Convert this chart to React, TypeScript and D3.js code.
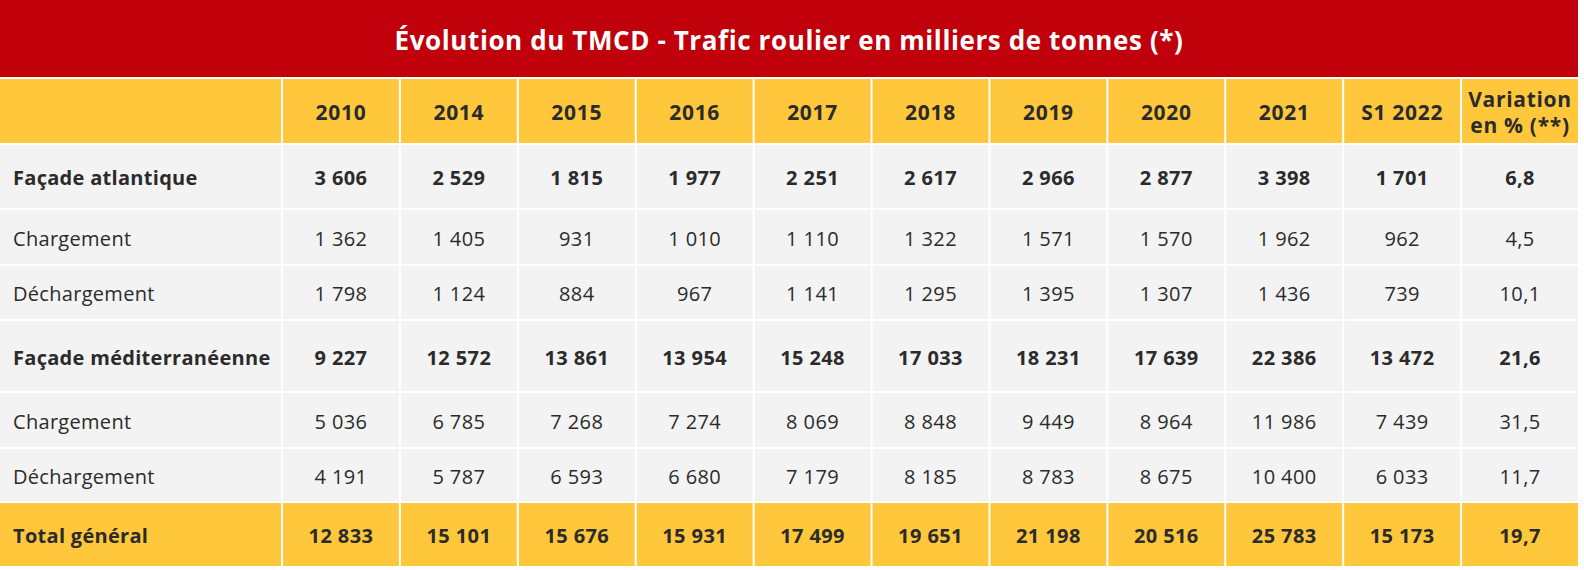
import React from "react";
import * as d3 from "d3";

const title = "Évolution du TMCD - Trafic roulier en milliers de tonnes (*)";
const columns = ["2010", "2014", "2015", "2016", "2017", "2018", "2019", "2020", "2021", "S1 2022", "Variation|en % (**)"];
const rowLabels = ["Façade atlantique", "Chargement", "Déchargement", "Façade méditerranéenne", "Chargement", "Déchargement", "Total général"];
const rowBold = [true, false, false, true, false, false, true];

const atlantique = ["3 606", "2 529", "1 815", "1 977", "2 251", "2 617", "2 966", "2 877", "3 398", "1 701", "6,8"];
const atlChargement = ["1 362", "1 405", "931", "1 010", "1 110", "1 322", "1 571", "1 570", "1 962", "962", "4,5"];
const atlDechargement = ["1 798", "1 124", "884", "967", "1 141", "1 295", "1 395", "1 307", "1 436", "739", "10,1"];
const mediterranee = ["9 227", "12 572", "13 861", "13 954", "15 248", "17 033", "18 231", "17 639", "22 386", "13 472", "21,6"];
const medChargement = ["5 036", "6 785", "7 268", "7 274", "8 069", "8 848", "9 449", "8 964", "11 986", "7 439", "31,5"];
const medDechargement = ["4 191", "5 787", "6 593", "6 680", "7 179", "8 185", "8 783", "8 675", "10 400", "6 033", "11,7"];
const totalGeneral = ["12 833", "15 101", "15 676", "15 931", "17 499", "19 651", "21 198", "20 516", "25 783", "15 173", "19,7"];

const rows = [atlantique, atlChargement, atlDechargement, mediterranee, medChargement, medDechargement, totalGeneral];

const W = 1584;
const H = 570;
const TABLE_W = 1578;
const FIRST_W = 281;
const GAP = 2;
const TITLE_H = 77;
const HEADER_H = 64;
const ROW_H = [63, 54, 53, 70, 54, 52, 63];

const RED = "#C0000B";
const YELLOW = "#FEC73C";
const GREY = "#F3F3F3";
const TEXT = "#2B2B2B";
const FONT = "'Open Sans', 'Noto Sans', sans-serif";

export default function App() {
  const x = d3.scaleBand<string>().domain(columns).range([FIRST_W, TABLE_W]).padding(0);
  const headerY = TITLE_H + GAP;
  const rowY: number[] = [];
  let y = headerY + HEADER_H + GAP;
  for (let i = 0; i < ROW_H.length; i++) {
    rowY.push(y);
    y += ROW_H[i] + GAP;
  }

  return (
    <svg
      width={W}
      height={H}
      style={{ position: "absolute", left: 0, top: 0, background: "#fff" }}
      fontFamily={FONT}
    >
      <rect x={0} y={0} width={TABLE_W} height={TITLE_H} fill={RED} />
      <text
        x={TABLE_W / 2}
        y={50}
        textAnchor="middle"
        fill="#fff"
        fontWeight={700}
        fontSize={26}
        letterSpacing={0.6}
      >
        {title}
      </text>

      {/* header */}
      <rect x={0} y={headerY} width={FIRST_W} height={HEADER_H} fill={YELLOW} />
      {columns.map((c) => {
        const cx = (x(c) as number) + GAP;
        const w = x.bandwidth() - GAP;
        const lines = c.split("|");
        return (
          <g key={c}>
            <rect x={cx} y={headerY} width={w} height={HEADER_H} fill={YELLOW} />
            {lines.map((ln, li) => (
              <text
                key={li}
                x={cx + w / 2}
                y={headerY + HEADER_H / 2 + 1 + (li - (lines.length - 1) / 2) * 26}
                textAnchor="middle"
                dominantBaseline="central"
                fill={TEXT}
                fontWeight={700}
                fontSize={21}
                letterSpacing={0.7}
              >
                {ln}
              </text>
            ))}
          </g>
        );
      })}

      {rows.map((vals, ri) => {
        const ry = rowY[ri];
        const rh = ROW_H[ri];
        const fill = ri === rows.length - 1 ? YELLOW : GREY;
        const weight = rowBold[ri] ? 700 : 400;
        return (
          <g key={ri}>
            <rect x={0} y={ry} width={FIRST_W} height={rh} fill={fill} />
            <text
              x={13}
              y={ry + rh / 2 + 1}
              dominantBaseline="central"
              fill={TEXT}
              fontWeight={weight}
              fontSize={20}
              letterSpacing={0.3}
            >
              {rowLabels[ri]}
            </text>
            {vals.map((v, ci) => {
              const cx = (x(columns[ci]) as number) + GAP;
              const w = x.bandwidth() - GAP;
              return (
                <g key={ci}>
                  <rect x={cx} y={ry} width={w} height={rh} fill={fill} />
                  <text
                    x={cx + w / 2}
                    y={ry + rh / 2 + 1}
                    textAnchor="middle"
                    dominantBaseline="central"
                    fill={TEXT}
                    fontWeight={weight}
                    fontSize={20}
                    letterSpacing={0.4}
                  >
                    {v}
                  </text>
                </g>
              );
            })}
          </g>
        );
      })}
    </svg>
  );
}
